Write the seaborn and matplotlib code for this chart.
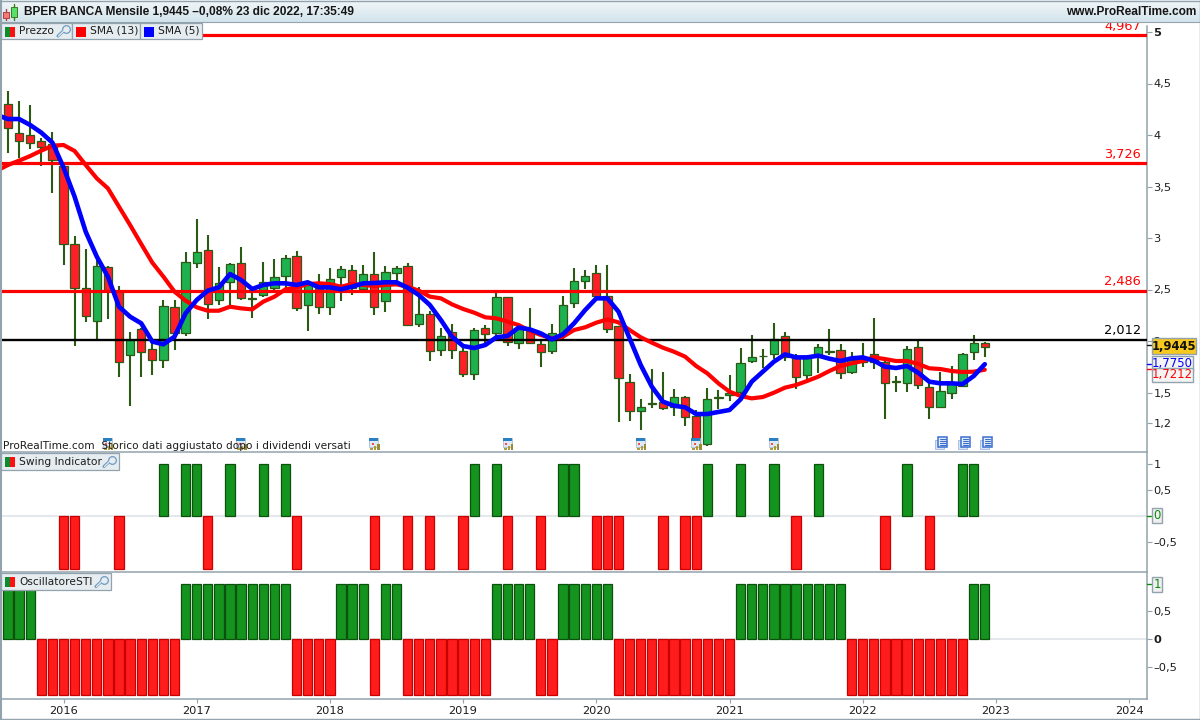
import numpy as np
import pandas as pd
import matplotlib
matplotlib.use("Agg")
import matplotlib.pyplot as plt
from matplotlib.patches import Rectangle
import seaborn as sns

# ---------- data ----------
opens = [4.30,4.016,3.997,3.939,3.909,3.696,2.939,2.511,2.191,2.715,2.489,1.861,2.113,1.919,1.812,2.327,2.074,2.754,2.88,2.395,2.57,2.754,2.42,2.443,2.511,2.628,2.822,2.346,2.511,2.327,2.618,2.686,2.502,2.647,2.385,2.657,
         2.725,2.162,2.259,1.909,2.084,1.90,1.676,2.123,2.074,2.424,1.977,2.094,1.968,1.90,2.074,2.366,2.579,2.657,2.434,2.142,1.599,1.317,1.395,1.405,1.362,1.453,1.269,0.997,
         1.452,1.472,1.508,1.803,1.858,1.87,2.045,1.832,1.667,1.864,1.90,1.909,1.696,1.799,1.87,1.793,1.608,1.589,1.938,1.55,1.356,1.492,1.56,1.89,1.977]
closes = [4.07,3.939,3.919,3.88,3.754,2.939,2.511,2.24,2.725,2.489,1.793,2.007,1.89,1.812,2.337,2.074,2.764,2.861,2.356,2.56,2.744,2.414,2.41,2.57,2.618,2.803,2.317,2.541,2.327,2.599,2.696,2.511,2.647,2.327,2.667,2.705,
          2.152,2.259,1.90,2.045,1.909,1.676,2.104,2.065,2.424,1.99,2.123,1.977,1.89,2.074,2.346,2.579,2.628,2.434,2.113,1.638,1.317,1.356,1.385,1.346,1.453,1.259,0.997,1.434,
          1.448,1.492,1.783,1.841,1.85,2.016,1.841,1.647,1.841,1.938,1.895,1.686,1.812,1.848,1.793,1.589,1.602,1.919,1.57,1.356,1.511,1.579,1.87,1.977,1.9445]
highs = [4.427,4.33,4.291,3.968,4.029,3.699,3.02,2.893,2.819,2.725,2.531,2.084,2.123,1.977,2.395,2.395,2.861,3.181,3.026,2.715,2.754,2.909,2.502,2.764,2.793,2.832,2.871,2.56,2.647,2.705,2.725,2.735,2.735,2.861,2.725,2.725,
         2.754,2.521,2.288,2.123,2.162,1.945,2.123,2.152,2.463,2.424,2.133,2.317,2.01,2.162,2.437,2.705,2.686,2.735,2.735,2.142,1.676,1.434,1.725,1.696,1.531,1.466,1.33,1.541,
         1.524,1.67,1.929,2.055,1.919,2.171,2.084,1.87,1.864,1.968,2.113,1.968,1.89,1.977,2.22,1.832,1.657,1.948,1.997,1.589,1.696,1.754,1.88,2.055,1.987]
lows = [3.828,3.78,3.864,3.702,3.44,2.741,1.955,2.188,2.003,2.217,1.654,1.372,1.654,1.673,1.741,1.916,2.052,2.712,2.217,2.35,2.333,2.395,2.227,2.43,2.463,2.495,2.294,2.10,2.265,2.256,2.392,2.45,2.463,2.256,2.285,2.56,
        2.152,2.139,1.809,1.858,1.828,1.654,1.625,1.977,2.01,1.955,1.926,1.977,1.751,1.877,2.007,2.324,2.505,2.424,2.081,1.217,1.227,1.139,1.353,1.33,1.275,1.178,0.958,0.984,
        1.34,1.421,1.476,1.783,1.741,1.822,1.809,1.531,1.621,1.692,1.864,1.634,1.683,1.751,1.731,1.246,1.508,1.508,1.531,1.246,1.356,1.44,1.55,1.815,1.848]
sma5 = [4.194,4.155,4.155,4.097,4.023,3.926,3.686,3.401,3.061,2.819,2.625,2.333,2.236,2.172,1.994,1.968,2.042,2.269,2.398,2.489,2.521,2.65,2.592,2.505,2.544,2.56,2.56,2.544,2.57,2.521,2.521,2.502,2.527,2.56,2.563,2.57,2.57,
        2.518,2.447,2.35,2.204,2.042,1.951,1.932,1.961,2.036,2.049,2.13,2.113,2.074,2.016,2.065,2.172,2.301,2.414,2.414,2.285,2.026,1.767,1.557,1.411,1.372,1.356,1.291,1.291,
        1.311,1.33,1.434,1.605,1.702,1.799,1.87,1.841,1.841,1.858,1.828,1.806,1.832,1.841,1.809,1.751,1.738,1.757,1.692,1.605,1.589,1.589,1.582,1.66,1.775]
sma13 = [3.654,3.709,3.751,3.796,3.848,3.896,3.903,3.845,3.709,3.579,3.482,3.304,3.126,2.942,2.761,2.625,2.479,2.392,2.327,2.294,2.294,2.333,2.317,2.307,2.382,2.43,2.502,2.521,2.553,2.56,2.553,2.527,2.553,2.544,2.534,2.544,2.55,
         2.527,2.489,2.431,2.414,2.356,2.311,2.275,2.23,2.22,2.188,2.155,2.1,2.058,2.026,2.042,2.107,2.133,2.178,2.21,2.181,2.107,2.036,1.984,1.935,1.896,1.848,1.757,1.686,
         1.589,1.508,1.466,1.443,1.456,1.498,1.547,1.573,1.612,1.654,1.709,1.757,1.783,1.806,1.841,1.825,1.806,1.806,1.777,1.735,1.728,1.709,1.699,1.702,1.7212]
swing = [0,0,0,0,0,-1,-1,0,0,0,-1,0,0,0,1,0,1,1,-1,0,1,0,0,1,0,1,-1,0,0,0,0,0,0,-1,0,0,-1,0,-1,0,0,-1,1,0,1,-1,0,0,-1,0,1,1,0,-1,-1,-1,0,0,0,-1,0,-1,-1,1,0,0,1,0,0,1,0,-1,0,1,0,0,0,0,0,-1,0,1,0,-1,0,0,1,1,0]
oscillator = [1,1,1,-1,-1,-1,-1,-1,-1,-1,-1,-1,-1,-1,-1,-1,1,1,1,1,1,1,1,1,1,1,-1,-1,-1,-1,1,1,1,-1,1,1,-1,-1,-1,-1,-1,-1,-1,-1,1,1,1,1,-1,-1,1,1,1,1,1,-1,-1,-1,-1,-1,-1,-1,-1,-1,-1,-1,1,1,1,1,1,1,1,1,1,1,-1,-1,-1,-1,-1,-1,-1,-1,-1,-1,-1,1,1]
red_levels = [4.967, 3.726, 2.486]
black_level = 2.012
year_pos = [5, 17, 29, 41, 53, 65, 77, 89, 101]
year_labels = ["2016","2017","2018","2019","2020","2021","2022","2023","2024"]
price_ticks = [5, 4.5, 4, 3.5, 3, 2.5, 2, 1.5, 1.2]
price_tick_labels = ["5", "4,5", "4", "3,5", "3", "2,5", "2", "1,5", "1,2"]
calendar_idx = [9, 21, 33, 45, 57, 62, 69]
document_idx = [84, 86, 88]

months = np.arange(len(closes))
candles = pd.DataFrame({"m": months, "o": opens, "c": closes, "h": highs, "l": lows})
sma_x = np.arange(-1, len(closes))
lines = pd.DataFrame({"m": sma_x, "sma5": sma5, "sma13": sma13})
ind = pd.DataFrame({"m": months, "swing": swing, "osc": oscillator})

# ---------- style ----------
sns.set_theme(style="white")
FONT = "DejaVu Sans"
plt.rcParams["font.family"] = [FONT]
W, H = 1200, 720
GRID = "#93a3ae"
TXT = "#1c1c1c"
WICK = "#2a5a14"
fig = plt.figure(figsize=(W/100, H/100), dpi=100, facecolor="white")

def make_ax(top, bottom):
    return fig.add_axes([1/W, 1-bottom/H, 1145.5/W, (bottom-top)/H], facecolor="white")

ax = make_ax(26, 452)
ax_sw = make_ax(452.5, 572)
ax_os = make_ax(572.5, 699)

# x: 8 px + 11.1 px per month
xlim = ((1-8)/11.1, (1146.5-8)/11.1)

# candles
up = candles[candles.c >= candles.o]
dn = candles[candles.c < candles.o]
ax.vlines(candles.m, candles.l, candles.h, color=WICK, lw=1.5, zorder=2)
ax.bar(up.m, up.c-up.o, bottom=up.o, width=0.74, color="#1db14f", edgecolor=WICK, lw=0.9, zorder=3)
ax.bar(dn.m, dn.o-dn.c, bottom=dn.c, width=0.74, color="#ff1f28", edgecolor=WICK, lw=0.9, zorder=3)

# horizontal levels
for lv in red_levels:
    ax.axhline(lv, color="#ff0000", lw=2.3, zorder=4)
ax.axhline(black_level, color="black", lw=1.7, zorder=4)
lab_x = xlim[0] + (1141-1)/11.1
for lv in red_levels:
    ax.text(lab_x, lv+0.025, f"{lv:.3f}".replace(".", ","), color="#ff0000", fontsize=9.3, ha="right", va="bottom", zorder=6)
ax.text(lab_x, black_level+0.025, f"{black_level:.3f}".replace(".", ","), color="black", fontsize=9.3, ha="right", va="bottom", zorder=6)

# moving averages
sns.lineplot(data=lines, x="m", y="sma13", ax=ax, color="#ff0000", lw=3.0, zorder=5, errorbar=None)
sns.lineplot(data=lines, x="m", y="sma5", ax=ax, color="#0000ff", lw=3.3, zorder=6, errorbar=None)

# indicators
GRN, GRN_E, RED, RED_E = "#15931f", "#0b500b", "#ff1c1c", "#c80000"
def bars(axis, col):
    axis.axhline(0, color="#dfe3e8", lw=1.2, zorder=0)
    for sel, c, e in ((ind[ind[col] > 0], GRN, GRN_E), (ind[ind[col] < 0], RED, RED_E)):
        sns.barplot(data=sel, x="m", y=col, ax=axis, native_scale=True, width=0.84,
                    color=c, edgecolor=e, linewidth=0.9, saturation=1, errorbar=None, zorder=2)
bars(ax_sw, "swing")
bars(ax_os, "osc")

ax.set_ylim(5-(452-32)/103, 5+(32-26)/103)
ax_sw.set_ylim((516-572)/52.5, (516-452.5)/52.5)
ax_os.set_ylim((639-699)/55.5, (639-572.5)/55.5)

for a in (ax, ax_sw, ax_os):
    a.set_xlim(*xlim)
    a.set_xlabel(""); a.set_ylabel("")
    a.yaxis.tick_right()
    a.tick_params(axis="y", length=3.6, width=0.8, color=GRID, pad=1.4, labelsize=8.2, labelcolor=TXT, right=True, left=False)
    for s in a.spines.values():
        s.set_color(GRID); s.set_linewidth(1.1)
    a.spines["top"].set_visible(False)
    a.set_xticks([])

ax.set_yticks(price_ticks, price_tick_labels)
ax.get_yticklabels()[0].set_fontweight("bold")
ax_sw.set_yticks([1, 0.5, -0.5], ["1", "0,5", "\u20130,5"])
ax_os.set_yticks([0.5, 0, -0.5], ["0,5", "0", "\u20130,5"])
ax_os.get_yticklabels()[1].set_fontweight("bold")
ax_os.set_xticks(year_pos, year_labels)
ax_os.tick_params(axis="x", length=3, width=0.8, color=GRID, pad=2, labelsize=8.2, labelcolor=TXT, bottom=True)

# ---------- overlay in pixel coordinates for the window furniture ----------
ov = fig.add_axes([0, 0, 1, 1], zorder=20)
ov.set_xlim(0, W); ov.set_ylim(H, 0); ov.axis("off"); ov.patch.set_alpha(0)

def rect(x0, y0, x1, y1, fc, ec="none", lw=0.9, z=1):
    ov.add_patch(Rectangle((x0, y0), x1-x0, y1-y0, fc=fc, ec=ec, lw=lw, zorder=z))

def month_px(i):
    return 8 + 11.1*i

# header
grad = np.linspace(0, 1, 22)[:, None]
cmap = matplotlib.colors.LinearSegmentedColormap.from_list("h", ["#f1f6f9", "#d3e4ec"])
ov.imshow(grad, extent=(0, W, 22, 0), cmap=cmap, aspect="auto", zorder=0)
ov.set_xlim(0, W); ov.set_ylim(H, 0)
ov.plot([0, W], [0.5, 0.5], color=GRID, lw=1, zorder=1)
ov.plot([0, W], [22, 22], color=GRID, lw=0.8, zorder=1)
ov.plot([0.5, 0.5], [0, H], color=GRID, lw=1.5, zorder=1)
ov.plot([W-0.5, W-0.5], [0, H], color=GRID, lw=1, zorder=1)
ov.plot([0, W], [H-0.8, H-0.8], color=GRID, lw=1, zorder=1)
ov.plot([14, 14], [4, 20], color="#3c7a1c", lw=1, zorder=2)
rect(11, 7, 17, 17, "#59e06a", "#3c7a1c", 0.7, 3)
ov.plot([6, 6], [9, 20], color="#b04040", lw=1, zorder=2)
rect(3, 12, 9, 18, "#f47a7a", "#b04040", 0.7, 3)
ov.text(23.5, 12, "BPER BANCA Mensile 1,9445 \u20130,08% 23 dic 2022, 17:35:49", fontsize=8.6, fontweight="bold",
        family="Liberation Sans", color="#161616", va="center", ha="left", zorder=4)
ov.text(1196.5, 12, "www.ProRealTime.com", fontsize=8.6, fontweight="bold", family="Liberation Sans",
        color="#161616", va="center", ha="right", zorder=4)

# legend chips
LEG = "#e6edf1"
def wrench(x, y):
    ov.plot([x, x+7], [y+10.5, y+4], color="#6f9ac0", lw=2.2, solid_capstyle="round", zorder=5)
    ov.plot([x+0.5, x+6.5], [y+10.5, y+4.5], color="#e6edf1", lw=0.9, zorder=6)
    ov.plot([x+8], [y+3.5], marker="o", ms=5.5, mfc=LEG, mec="#6f9ac0", mew=0.9, zorder=5)

def chip(x0, y0, x1, y1, label, colours, wr=None):
    rect(x0, y0, x1, y1, LEG, GRID, 0.9, 2)
    if len(colours) == 2:
        rect(x0+4, y0+4, x0+9, y0+14, colours[0], z=3)
        rect(x0+9, y0+4, x0+14, y0+14, colours[1], z=3)
    else:
        rect(x0+4, y0+4, x0+14, y0+14, colours[0], z=3)
    ov.text(x0+18, (y0+y1)/2+0.3, label, fontsize=7.7, color=TXT, va="center", ha="left", zorder=4)
    if wr is not None:
        wrench(wr, y0+3)

chip(1, 22.5, 72, 38.5, "Prezzo", ["#0f8a2c", "#ff1010"], 58)
chip(72, 22.5, 140, 38.5, "SMA (13)", ["#ff0000"])
chip(140, 22.5, 202, 38.5, "SMA (5)", ["#0000ff"])
chip(1, 453, 119, 470, "Swing Indicator", ["#0f8a2c", "#ff1010"], 104)
chip(1, 573, 111, 590, "OscillatoreSTI", ["#0f8a2c", "#ff1010"], 96)

# event icons
for i in calendar_idx:
    px = month_px(i)
    rect(px-5, 438, px+4, 447, "#dfe9f4", "#9db3cc", 0.5, 1)
    rect(px-5, 438, px+4, 441, "#2a7fc0", z=1)
    rect(px-2.5, 443, px-0.5, 445, "#f05050", z=1)
    rect(px+0, 446, px+2, 450, "#b09a3a", z=1)
    rect(px+3, 444, px+5.5, 450, "#9a8a30", z=1)
    rect(px-4, 448, px-1, 450, "#b09a3a", z=1)
for i in document_idx:
    px = month_px(i) + 1
    rect(px-6, 439.5, px+3, 449, "#d9e4f6", "#a8c0e8", 0.7, 1)
    rect(px-3, 436.5, px+6, 446.5, "#eaf0fb", "#3b6fcf", 1.1, 2)
    for yy in (439, 441, 443, 445):
        ov.plot([px-1, px+4.5], [yy, yy], color="#3b6fcf", lw=0.8, zorder=3)

ov.text(3, 446, "ProRealTime.com  Storico dati aggiustato dopo i dividendi versati", fontsize=7.6, color=TXT,
        va="center", ha="left", zorder=4)

# last-value tags
def tag(x0, y0, x1, y1, txt, fc, col, z, weight="normal"):
    rect(x0, y0, x1, y1, fc, GRID, 1.0, z)
    ov.text((x0+x1)/2, (y0+y1)/2+0.3, txt, fontsize=8.4, color=col, ha="center", va="center", fontweight=weight, zorder=z)

ov.plot([1147, 1151], [364, 364], color="#0000ff", lw=1, zorder=2)
ov.plot([1147, 1151], [369, 369], color="#ff0000", lw=1, zorder=2)
ov.plot([1147, 1151], [345, 345], color="#111111", lw=1, zorder=2)
ov.plot([1147, 1151], [516, 516], color="#0a8a0a", lw=1, zorder=2)
ov.plot([1147, 1151], [584, 584], color="#0a8a0a", lw=1, zorder=2)
tag(1152, 355.5, 1193, 371, "1,7750", "#f4f4f4", "#0000ff", 3)
tag(1152, 367.5, 1193, 381.5, "1,7212", "#f4f4f4", "#ff0000", 4)
tag(1152, 338, 1196, 354, "1,9445", "#f7c81e", "#111111", 5, "bold")
tag(1152, 508, 1162, 523, "0", "#f0f0f0", "#0a8a0a", 3)
tag(1152, 577, 1162, 592, "1", "#f0f0f0", "#0a8a0a", 3)

fig.savefig("out.png", dpi=100)
